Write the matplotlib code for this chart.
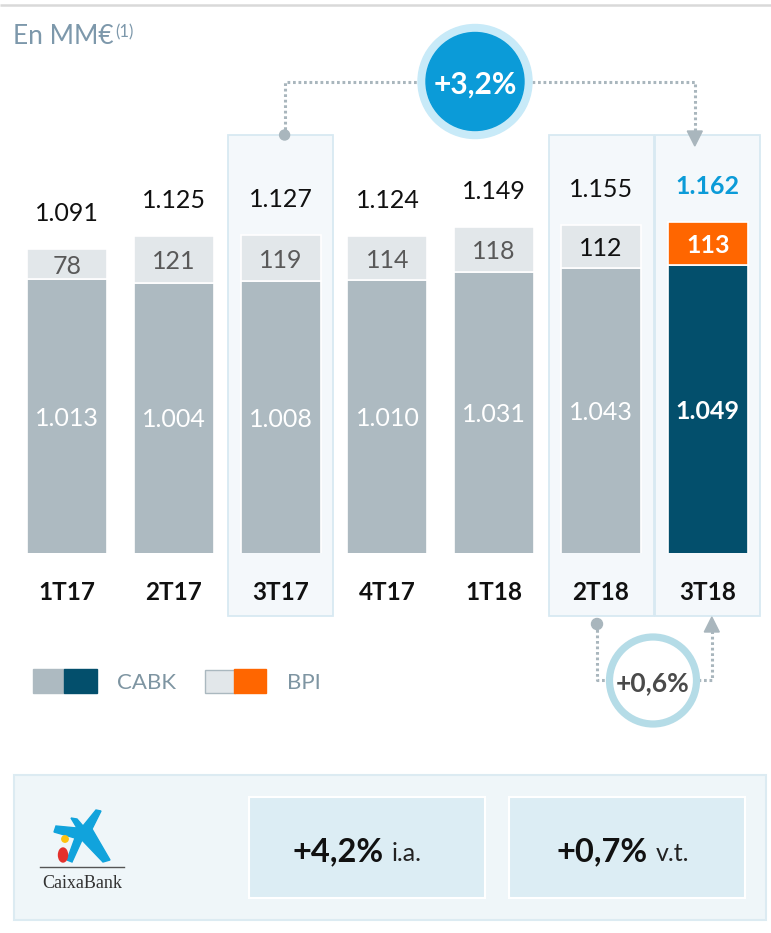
import matplotlib
matplotlib.use("Agg")
import matplotlib.pyplot as plt
from matplotlib.patches import Rectangle, Circle, Polygon, Ellipse
import numpy as np

# --- datos (MM€) ---
quarters = ['1T17', '2T17', '3T17', '4T17', '1T18', '2T18', '3T18']
cabk = [1013, 1004, 1008, 1010, 1031, 1043, 1049]
bpi = [78, 121, 119, 114, 118, 112, 113]
totals = [1091, 1125, 1127, 1124, 1149, 1155, 1162]
highlighted = ['3T17', '2T18', '3T18']

yoy_label = '+3,2%'
qoq_label = '+0,6%'
kpi_values = ['+4,2%', '+0,7%']
kpi_units = ['i.a.', 'v.t.']

# --- colores ---
GRAY = '#ADBAC1'
NAVY = '#034F6C'
LIGHT = '#E2E7EA'
ORANGE = '#FF6600'
BLUE = '#0B9BD8'
DOT = '#A9B6BD'
AXIS_TXT = '#7E95A2'

plt.rcParams['font.family'] = ['Lato', 'DejaVu Sans']

# --- geometría (en píxeles de la figura) ---
FIG_W, FIG_H = 771, 933
PLOT_LEFT = 13.6
SLOT = 106.8
BASE_Y = 553.3
TOP_Y = 130
Y_FLOOR = 301
PX_PER_UNIT = 0.385


def slot_x(i):
    return PLOT_LEFT + (i + 0.5) * SLOT


def fmt(v):
    return f'{v:,}'.replace(',', '.')


fig = plt.figure(figsize=(FIG_W / 100, FIG_H / 100), dpi=100)
fig.patch.set_facecolor('white')

# capa de fondo: recuadros de los trimestres destacados
under = fig.add_axes([0, 0, 1, 1])
under.set_xlim(0, FIG_W)
under.set_ylim(FIG_H, 0)
under.axis('off')
for q in highlighted:
    cx = slot_x(quarters.index(q))
    under.add_patch(Rectangle((cx - 52.5, 135), 105, 481,
                              facecolor='#F4F8FB', edgecolor='#D8E9F2', lw=1.3))

# barras apiladas
ax = fig.add_axes([PLOT_LEFT / FIG_W, 1 - BASE_Y / FIG_H,
                   len(quarters) * SLOT / FIG_W, (BASE_Y - TOP_Y) / FIG_H])
ax.patch.set_visible(False)
ax.set_xlim(-0.5, len(quarters) - 0.5)
ax.set_ylim(Y_FLOOR, Y_FLOOR + (BASE_Y - TOP_Y) / PX_PER_UNIT)
ax.axis('off')

x = np.arange(len(quarters))
last = len(quarters) - 1
cabk_colors = [NAVY if i == last else GRAY for i in x]
bpi_colors = [ORANGE if i == last else LIGHT for i in x]
ax.bar(x, cabk, width=0.75, color=cabk_colors, edgecolor='white', lw=1.2, zorder=2)
ax.bar(x, bpi, bottom=cabk, width=0.75, color=bpi_colors, edgecolor='white', lw=1.2, zorder=2)

bpi_txt = ['#595959', '#595959', '#595959', '#595959', '#595959', '#111111', 'white']
for i in x:
    hi = i == last
    ax.annotate(fmt(totals[i]), (i, totals[i]), xytext=(0, 27), textcoords='offset points',
                ha='center', va='center_baseline', fontsize=18,
                color=BLUE if hi else '#111111', fontweight='bold' if hi else 'normal')
    ax.text(i, cabk[i] + bpi[i] / 2, fmt(bpi[i]), ha='center', va='center_baseline',
            fontsize=18, color=bpi_txt[i], fontweight='bold' if hi else 'normal', zorder=3)
    ax.text(i, (Y_FLOOR + cabk[i]) / 2, fmt(cabk[i]), ha='center', va='center_baseline',
            fontsize=18, color='white', fontweight='bold' if hi else 'normal', zorder=3)

# capa superior: rótulos, conectores, leyenda y panel inferior
over = fig.add_axes([0, 0, 1, 1])
over.set_xlim(0, FIG_W)
over.set_ylim(FIG_H, 0)
over.axis('off')
over.patch.set_visible(False)

for i, q in enumerate(quarters):
    over.text(slot_x(i), 591, q, ha='center', va='center_baseline',
              fontsize=17.5, fontweight='bold', color='#111111')

over.plot([0, FIG_W], [5, 5], color='#D9D9D9', lw=1.8, solid_capstyle='butt')
head = over.text(13, 44, 'En MM€', fontsize=19, color='#7D98AB', va='baseline')
over.annotate('(1)', xy=(1, 1), xycoords=head, xytext=(1, 0), textcoords='offset points',
              ha='left', va='top', fontsize=12, color='#7D98AB')

dotted = dict(color=DOT, lw=2.2, ls=(0, (0.9, 0.9)))

# variación interanual
cx, cy = 475, 81.5
x0 = slot_x(2) + 4
x1 = slot_x(6) - 13
over.plot([x0, x0, cx - 57], [135, cy, cy], **dotted)
over.plot([cx + 57, x1, x1], [cy, cy, 133], **dotted)
over.add_patch(Circle((x0, 135), 5, color=DOT, zorder=4))
over.add_patch(Polygon([(x1 - 7.5, 131), (x1 + 7.5, 131), (x1, 146)], color=DOT, zorder=4))
over.add_patch(Circle((cx, cy), 57, color='#C8EAF8', zorder=3))
over.add_patch(Circle((cx, cy), 49, color=BLUE, zorder=4))
over.text(cx, cy + 1, yoy_label, ha='center', va='center_baseline', fontsize=21.5,
          fontweight='bold', color='white', zorder=5)

# variación trimestral
rx, ry = 653, 680.5
x2 = slot_x(5) - 4
x3 = slot_x(6) + 4
over.plot([x2, x2, rx - 45], [624, ry - 1, ry - 1], **dotted)
over.plot([rx + 45, x3, x3], [ry - 1, ry - 1, 631], **dotted)
over.add_patch(Circle((x2, 624), 5.5, color=DOT, zorder=4))
over.add_patch(Polygon([(x3 - 7.5, 632), (x3 + 7.5, 632), (x3, 617)], color=DOT, zorder=4))
over.add_patch(Circle((rx, ry), 43.5, facecolor='white', edgecolor='#B5DCE7', lw=5.2, zorder=4))
over.text(rx, ry + 1, qoq_label, ha='center', va='center_baseline', fontsize=19,
          fontweight='bold', color='#4A4A4A', zorder=5)

# leyenda
over.add_patch(Rectangle((33, 669), 31, 24, color=GRAY))
over.add_patch(Rectangle((64, 669), 33, 24, color=NAVY))
over.text(117, 681, 'CABK', va='center_baseline', fontsize=16, color=AXIS_TXT)
over.add_patch(Rectangle((204.5, 669.5), 30, 23, facecolor=LIGHT, edgecolor='#AAB8BF', lw=1))
over.add_patch(Rectangle((234, 669), 32, 24, color=ORANGE))
over.text(287, 681, 'BPI', va='center_baseline', fontsize=16, color=AXIS_TXT)

# panel inferior con logotipo y KPIs
over.add_patch(Rectangle((14, 775), 752, 145, facecolor='#EFF6F9', edgecolor='#DCEBF2', lw=1.5))
for k, (bx, right_x) in enumerate([(249, 384), (509, 648)]):
    over.add_patch(Rectangle((bx, 797), 236, 101, facecolor='#DCEDF4', edgecolor='white', lw=1.5))
    over.text(right_x, 861, kpi_values[k], ha='right', va='baseline', fontsize=23.5,
              fontweight='bold', color='#111111')
    over.text(right_x + 8, 861, kpi_units[k], ha='left', va='baseline', fontsize=18,
              color='#222222')

star = [(101, 811), (92, 829), (110, 860), (103, 862), (82, 840), (72, 862), (67, 860),
        (75, 838), (54, 832), (56, 826), (77, 828), (71, 818), (77, 819), (83, 826), (96, 810)]
over.add_patch(Polygon(star, closed=True, color='#11A3DC'))
over.add_patch(Circle((65, 839), 3.2, color='#FFC20E'))
over.add_patch(Ellipse((63, 855), 9, 14, color='#E3312D'))
over.plot([40, 124], [866.5, 866.5], color='#555555', lw=1)
over.text(82, 881, 'CaixaBank', ha='center', va='center_baseline', fontsize=13,
          family=['Liberation Serif', 'DejaVu Serif'], color='#333333')

fig.savefig('out.png', dpi=100, facecolor='white')
